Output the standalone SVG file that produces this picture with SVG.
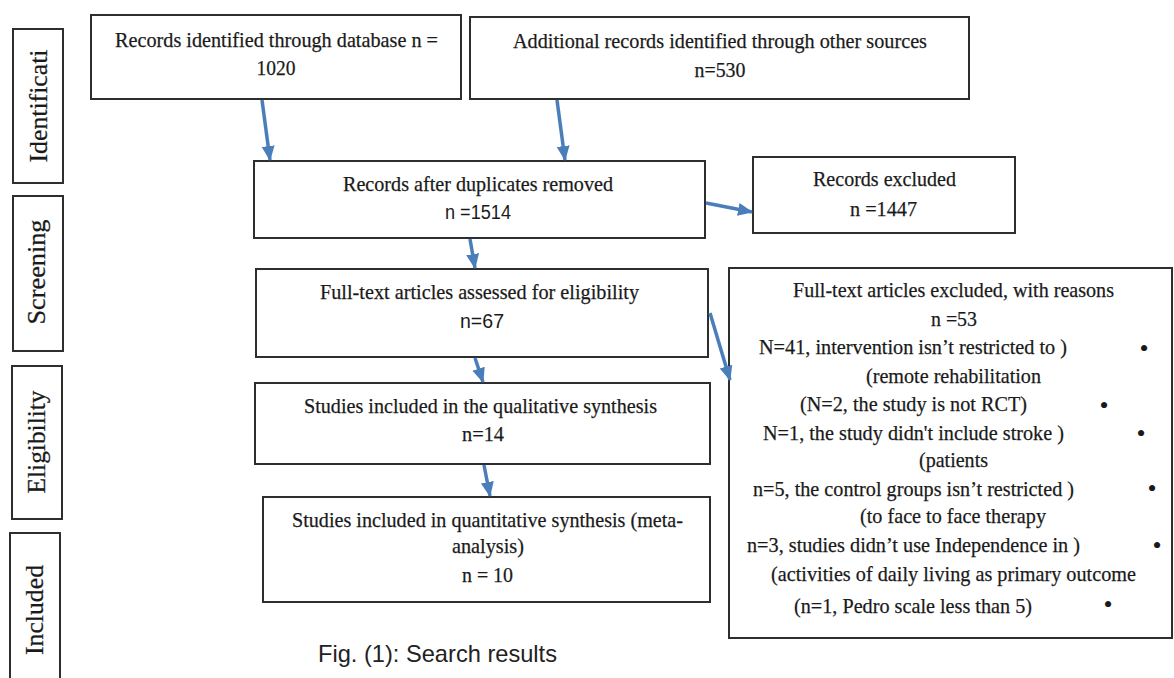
<svg xmlns="http://www.w3.org/2000/svg" width="1174" height="678" viewBox="0 0 1174 678">
<defs>
<style>
.box{fill:#fff;stroke:#2e2e2e;stroke-width:2}
.t{font-family:"Liberation Serif","Times New Roman",serif;font-size:22px;fill:#1a1a1a;stroke:#1a1a1a;stroke-width:0.25}
.m{text-anchor:middle}
.s{font-family:"Liberation Sans",Arial,sans-serif;font-size:20px;fill:#1a1a1a}
.side{font-family:"Liberation Serif","Times New Roman",serif;font-size:25px;fill:#1a1a1a;stroke:#1a1a1a;stroke-width:0.25;text-anchor:middle}
.cap{font-family:"Liberation Sans",Arial,sans-serif;font-size:24px;fill:#222;text-anchor:middle}
.arrow{stroke:#4a7ebb;stroke-width:3.5;fill:none;marker-end:url(#ah)}
.b{font-family:"Liberation Serif","Times New Roman",serif;font-size:26px;fill:#1a1a1a;text-anchor:middle}
</style>
<marker id="ah" markerUnits="userSpaceOnUse" markerWidth="15" markerHeight="15" viewBox="0 0 15 15" refX="14" refY="7.5" orient="auto">
<path d="M0,1 L15,7.5 L0,14 z" fill="#4a7ebb"/>
</marker>
</defs>
<rect width="1174" height="678" fill="#fff"/>

<g id="side-identification">
<rect class="box" x="13" y="29" width="50" height="154"/>
<text class="side" transform="translate(47,106) rotate(-90)" textLength="113" lengthAdjust="spacingAndGlyphs">Identificati</text>
</g>
<g id="side-screening">
<rect class="box" x="13" y="196" width="50" height="155"/>
<text class="side" transform="translate(45,272) rotate(-90)" textLength="105" lengthAdjust="spacingAndGlyphs">Screening</text>
</g>
<g id="side-eligibility">
<rect class="box" x="12" y="366" width="50" height="153"/>
<text class="side" transform="translate(45,442) rotate(-90)" textLength="103" lengthAdjust="spacingAndGlyphs">Eligibility</text>
</g>
<g id="side-included">
<rect class="box" x="10" y="533" width="50" height="160"/>
<text class="side" transform="translate(43,610) rotate(-90)" textLength="90" lengthAdjust="spacingAndGlyphs">Included</text>
</g>

<g id="records-database">
<rect class="box" x="91" y="15" width="370" height="84"/>
<text class="t m" x="276.5" y="47" textLength="323" lengthAdjust="spacingAndGlyphs">Records identified through database n =</text>
<text class="t m" x="276" y="75" textLength="39" lengthAdjust="spacingAndGlyphs">1020</text>
</g>
<g id="records-other">
<rect class="box" x="470" y="17" width="499" height="82"/>
<text class="t m" x="720" y="48" textLength="414" lengthAdjust="spacingAndGlyphs">Additional records identified through other sources</text>
<text class="t m" x="720" y="77" textLength="51" lengthAdjust="spacingAndGlyphs">n=530</text>
</g>
<g id="records-dedup">
<rect class="box" x="254" y="161" width="451" height="77"/>
<text class="t m" x="478" y="191" textLength="270" lengthAdjust="spacingAndGlyphs">Records after duplicates removed</text>
<text class="s m" x="478" y="219" textLength="66" lengthAdjust="spacingAndGlyphs">n =1514</text>
</g>
<g id="records-excluded">
<rect class="box" x="753" y="157" width="262" height="76"/>
<text class="t m" x="884.5" y="186" textLength="143" lengthAdjust="spacingAndGlyphs">Records excluded</text>
<text class="t m" x="883.5" y="216" textLength="67" lengthAdjust="spacingAndGlyphs">n =1447</text>
</g>
<g id="fulltext-assessed">
<rect class="box" x="256" y="269" width="452" height="88"/>
<text class="t m" x="479.5" y="299" textLength="319" lengthAdjust="spacingAndGlyphs">Full-text articles assessed for eligibility</text>
<text class="s m" x="482" y="328" textLength="44" lengthAdjust="spacingAndGlyphs">n=67</text>
</g>
<g id="fulltext-excluded">
<rect class="box" x="729" y="268" width="443" height="370"/>
<text class="t m" x="953.5" y="297" textLength="321" lengthAdjust="spacingAndGlyphs">Full-text articles excluded, with reasons</text>
<text class="t m" x="954" y="326" textLength="46" lengthAdjust="spacingAndGlyphs">n =53</text>
<text class="t" x="759" y="354" textLength="308" lengthAdjust="spacingAndGlyphs">N=41, intervention isn’t restricted to )</text>
<text class="b" x="1144" y="357">•</text>
<text class="t" x="866" y="383" textLength="175" lengthAdjust="spacingAndGlyphs">(remote rehabilitation</text>
<text class="t" x="800" y="411" textLength="227" lengthAdjust="spacingAndGlyphs">(N=2, the study is not RCT)</text>
<text class="b" x="1104" y="414">•</text>
<text class="t" x="763" y="440" textLength="301" lengthAdjust="spacingAndGlyphs">N=1, the study didn't include stroke )</text>
<text class="b" x="1141" y="442">•</text>
<text class="t" x="919" y="467" textLength="69" lengthAdjust="spacingAndGlyphs">(patients</text>
<text class="t" x="753" y="496" textLength="321" lengthAdjust="spacingAndGlyphs">n=5, the control groups isn’t restricted )</text>
<text class="b" x="1152" y="497">•</text>
<text class="t" x="860" y="523" textLength="186" lengthAdjust="spacingAndGlyphs">(to face to face therapy</text>
<text class="t" x="747" y="552" textLength="333" lengthAdjust="spacingAndGlyphs">n=3, studies didn’t use Independence in )</text>
<text class="b" x="1157" y="554">•</text>
<text class="t" x="771" y="581" textLength="365" lengthAdjust="spacingAndGlyphs">(activities of daily living as primary outcome</text>
<text class="t" x="794" y="613" textLength="238" lengthAdjust="spacingAndGlyphs">(n=1, Pedro scale less than 5)</text>
<text class="b" x="1108" y="613">•</text>
</g>
<g id="qualitative">
<rect class="box" x="255" y="383" width="455" height="81"/>
<text class="t m" x="480.5" y="413" textLength="353" lengthAdjust="spacingAndGlyphs">Studies included in the qualitative synthesis</text>
<text class="t m" x="483" y="441" textLength="42" lengthAdjust="spacingAndGlyphs">n=14</text>
</g>
<g id="quantitative">
<rect class="box" x="263" y="497" width="447" height="105"/>
<text class="t m" x="487.5" y="527" textLength="391" lengthAdjust="spacingAndGlyphs">Studies included in quantitative synthesis (meta-</text>
<text class="t m" x="488" y="553" textLength="72" lengthAdjust="spacingAndGlyphs">analysis)</text>
<text class="t m" x="487.5" y="582" textLength="51" lengthAdjust="spacingAndGlyphs">n = 10</text>
</g>

<g id="connectors">
<line class="arrow" x1="262" y1="100" x2="270" y2="160"/>
<line class="arrow" x1="557" y1="100" x2="565" y2="160"/>
<line class="arrow" x1="706" y1="203" x2="752" y2="212"/>
<line class="arrow" x1="470" y1="239" x2="475" y2="268"/>
<line class="arrow" x1="475" y1="358" x2="483" y2="382"/>
<line class="arrow" x1="710" y1="313" x2="730" y2="380"/>
<line class="arrow" x1="484" y1="465" x2="490" y2="496"/>
</g>

<text class="cap" x="437.5" y="662" textLength="239" lengthAdjust="spacingAndGlyphs">Fig. (1): Search results</text>
</svg>
